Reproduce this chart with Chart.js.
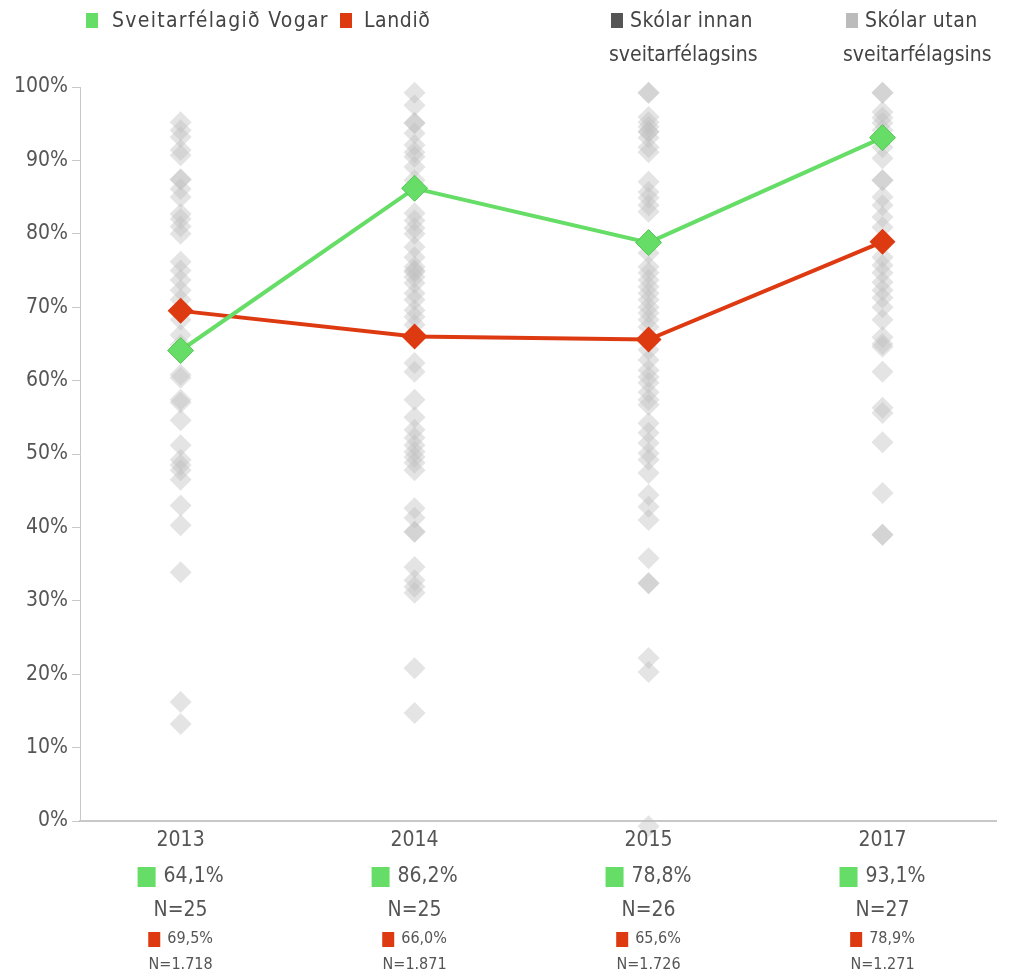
<!DOCTYPE html>
<html>
<head>
<meta charset="utf-8">
<script src="https://cdn.jsdelivr.net/npm/chart.js@4"></script>
<style>
  body { margin: 0; background: #fff; }
  #wrap { position: relative; width: 1010px; height: 975px; }
  .lg { position: absolute; font-family: 'Liberation Sans Narrow', 'DejaVu Sans Condensed', sans-serif; font-size: 21px; color: #444; line-height: 34px; white-space: nowrap; }
  .lg i { display: inline-block; width: 12px; height: 15px; margin-right: 7px; vertical-align: -1px; }
</style>
</head>
<body>
<div id="wrap">
  <canvas id="chart" width="1010" height="975"></canvas>
  <div class="lg" style="left:86px;top:3px;letter-spacing:1.3px"><i style="background:#66dd66;margin-right:14px"></i>Sveitarfélagið Vogar</div>
  <div class="lg" style="left:340px;top:3px;letter-spacing:0.6px"><i style="background:#dd3a12;margin-right:12px"></i>Landið</div>
  <div class="lg" style="left:611px;top:3px"><i style="background:#555"></i><span style="letter-spacing:0.5px">Skólar innan</span><br><span style="margin-left:-2px">sveitarfélagsins</span></div>
  <div class="lg" style="left:846px;top:3px"><i style="background:#bbb"></i><span style="letter-spacing:0.5px">Skólar utan</span><br><span style="margin-left:-3px">sveitarfélagsins</span></div>
</div>
<script>
// gögn lesin af myndinni
const years = ['2013', '2014', '2015', '2017'];
const vogar = [64.1, 86.2, 78.8, 93.1];
const landid = [69.5, 66.0, 65.6, 78.9];
const vogarN = ['25', '25', '26', '27'];
const landidN = ['1.718', '1.871', '1.726', '1.271'];
const yTicks = [0, 10, 20, 30, 40, 50, 60, 70, 80, 90, 100];

// skólar utan sveitarfélagsins, eitt fylki fyrir hvert ár
const skolar2013 = [95.2, 94.1, 93.2, 91.4, 90.7, 87.4, 87.4, 86.1, 85.0, 82.7, 82.0, 81.0, 80.0,
  76.2, 75.0, 73.7, 72.3, 71.0, 69.6, 68.3, 66.2, 64.9, 60.8, 60.4, 57.4, 57.0, 54.6,
  51.2, 49.2, 48.5, 47.8, 46.5, 43.0, 40.3, 33.9, 16.2, 13.2];
const skolar2014 = [99.2, 97.5, 95.1, 95.1, 93.7, 92.1, 91.1, 90.5, 89.1, 87.3, 82.8, 81.8, 80.8,
  80.0, 78.2, 76.8, 75.5, 75.0, 74.8, 74.1, 73.3, 71.9, 71.0, 69.6, 68.7, 67.6, 62.4,
  61.2, 57.4, 55.0, 53.3, 52.2, 51.2, 50.3, 49.6, 48.8, 47.8, 42.6, 41.3, 39.4, 39.4,
  34.6, 32.8, 31.9, 31.1, 20.8, 14.7];
const skolar2015 = [99.2, 99.2, 95.9, 95.2, 94.6, 93.9, 93.9, 93.1, 91.8, 91.1, 87.1, 85.7, 84.9,
  83.9, 83.0, 77.4, 75.5, 74.7, 73.7, 72.8, 71.9, 71.0, 70.0, 69.2, 68.3, 67.3, 64.2,
  62.8, 61.4, 60.5, 59.7, 58.4, 57.4, 56.7, 54.2, 52.9, 51.5, 50.1, 49.2, 47.4, 44.4,
  42.8, 41.0, 35.8, 32.4, 32.4, 22.2, 20.3, -0.7];
const skolar2017 = [99.2, 99.2, 96.6, 95.8, 95.1, 94.1, 91.8, 90.3, 87.3, 87.3, 85.0, 83.9, 82.3,
  80.9, 76.8, 75.7, 74.7, 73.4, 72.3, 71.3, 70.0, 68.3, 65.9, 65.0, 64.6, 61.2, 56.3,
  55.6, 51.6, 44.7, 39.0, 39.0];
const skolarInnan = [];

const FONT = "'Liberation Sans Narrow', 'DejaVu Sans Condensed', sans-serif";
const GREEN = '#66dd66';
const RED = '#dd3a12';

function pct(v) {
    return v.toFixed(1).replace('.', ',') + '%';
}

const skolarUtan = [];
[skolar2013, skolar2014, skolar2015, skolar2017].forEach((arr, i) => {
    arr.forEach(v => skolarUtan.push({ x: i, y: v }));
});

// texti undir ásnum
const bottomLabels = {
    id: 'bottomLabels',
    afterDraw(chart) {
        const ctx = chart.ctx;
        const xs = chart.scales.x;
        const top = chart.chartArea.bottom;
        ctx.save();
        ctx.textBaseline = 'middle';
        years.forEach((yr, i) => {
            const cx = xs.getPixelForValue(i);
            ctx.fillStyle = '#555';
            ctx.textAlign = 'center';
            ctx.font = '21px ' + FONT;
            ctx.fillText(yr, cx, top + 20);
            ctx.fillText('N=' + vogarN[i], cx, top + 90);

            // grænn ferningur + gildi
            let t = pct(vogar[i]);
            let w = ctx.measureText(t).width;
            let sx = cx - (w + 26) / 2;
            ctx.fillStyle = GREEN;
            ctx.fillRect(sx, top + 46, 18, 20);
            ctx.fillStyle = '#555';
            ctx.textAlign = 'left';
            ctx.fillText(t, sx + 26, top + 56);

            // rauður ferningur + gildi
            ctx.font = '16px ' + FONT;
            t = pct(landid[i]);
            w = ctx.measureText(t).width;
            sx = cx - (w + 19) / 2;
            ctx.fillStyle = RED;
            ctx.fillRect(sx, top + 111, 12, 15);
            ctx.fillStyle = '#555';
            ctx.fillText(t, sx + 19, top + 118);
            ctx.textAlign = 'center';
            ctx.fillText('N=' + landidN[i], cx, top + 144);
        });
        ctx.restore();
    }
};

new Chart(document.getElementById('chart'), {
    type: 'scatter',
    data: {
        datasets: [{
            label: 'Sveitarfélagið Vogar',
            data: vogar.map((v, i) => ({ x: i, y: v })),
            showLine: true,
            borderColor: GREEN,
            borderWidth: 4,
            backgroundColor: GREEN,
            pointStyle: 'rectRot',
            pointRadius: 13,
            pointBorderColor: '#55c455',
            pointBorderWidth: 1,
            clip: false,
            order: 0
        }, {
            label: 'Landið',
            data: landid.map((v, i) => ({ x: i, y: v })),
            showLine: true,
            borderColor: RED,
            borderWidth: 4,
            backgroundColor: RED,
            pointStyle: 'rectRot',
            pointRadius: 13,
            pointBorderWidth: 0,
            clip: false,
            order: 1
        }, {
            label: 'Skólar innan sveitarfélagsins',
            data: skolarInnan,
            backgroundColor: '#555',
            pointStyle: 'rectRot',
            pointRadius: 11,
            pointBorderWidth: 0,
            clip: false,
            order: 2
        }, {
            label: 'Skólar utan sveitarfélagsins',
            data: skolarUtan,
            backgroundColor: 'rgba(190, 190, 190, 0.42)',
            pointStyle: 'rectRot',
            pointRadius: 11,
            pointBorderWidth: 0,
            clip: false,
            order: 3
        }]
    },
    options: {
        responsive: false,
        animation: false,
        layout: { padding: { top: 87, bottom: 154, left: 0, right: 10 } },
        plugins: {
            legend: { display: false },
            tooltip: { enabled: false }
        },
        scales: {
            x: {
                type: 'linear',
                min: -0.43,
                max: 3.485,
                ticks: { display: false },
                grid: { display: false },
                border: { display: true, color: '#c8c8c8', width: 2 },
                afterFit: s => { s.height = 0; }
            },
            y: {
                min: 0,
                max: 100,
                afterBuildTicks: s => { s.ticks = yTicks.map(v => ({ value: v })); },
                ticks: {
                    color: '#555',
                    padding: 4,
                    font: { family: FONT, size: 21 },
                    callback: v => v + '%'
                },
                grid: { drawOnChartArea: false, drawTicks: true, tickLength: 8, color: '#c8c8c8' },
                border: { display: true, color: '#c8c8c8', width: 1 },
                afterFit: s => { s.width = 80; }
            }
        }
    },
    plugins: [bottomLabels]
});
</script>
</body>
</html>
